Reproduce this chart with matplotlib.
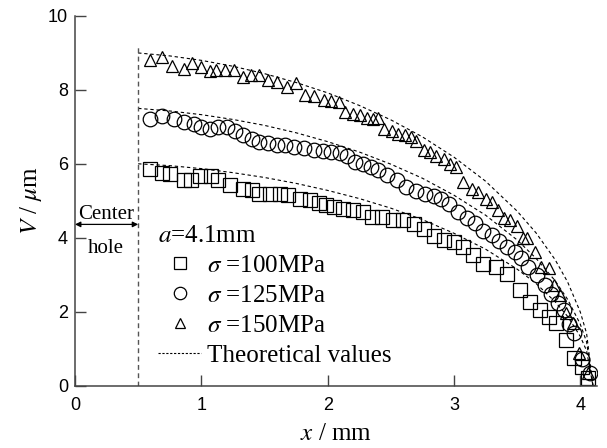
import matplotlib
matplotlib.use("Agg")
import matplotlib.pyplot as plt
from matplotlib.lines import Line2D

plt.rcParams['mathtext.fontset'] = 'stix'
plt.rcParams['font.family'] = ['Liberation Serif', 'DejaVu Serif']

# ---- data ----
sq_x = [0.59, 0.69, 0.75, 0.86, 0.92, 0.99, 1.08, 1.13, 1.23, 1.33, 1.40, 1.46, 1.54, 1.62,
        1.69, 1.78, 1.86, 1.93, 1.99, 2.05, 2.12, 2.20, 2.28, 2.35, 2.43, 2.52, 2.60, 2.68,
        2.76, 2.84, 2.92, 3.00, 3.07, 3.15, 3.23, 3.33, 3.42, 3.52, 3.60, 3.68, 3.75, 3.81,
        3.89, 3.95, 4.01, 4.06]
sq_v = [5.87, 5.75, 5.73, 5.57, 5.55, 5.66, 5.66, 5.55, 5.42, 5.33, 5.30, 5.19, 5.19, 5.19,
        5.15, 5.06, 5.01, 4.94, 4.88, 4.83, 4.79, 4.74, 4.70, 4.56, 4.56, 4.47, 4.47, 4.38,
        4.23, 4.05, 3.95, 3.89, 3.75, 3.53, 3.30, 3.21, 3.03, 2.58, 2.26, 2.04, 1.86, 1.68,
        1.23, 0.74, 0.51, 0.19]

ci_x = [0.59, 0.69, 0.78, 0.86, 0.94, 1.00, 1.07, 1.13, 1.20, 1.27, 1.33, 1.40, 1.46, 1.53,
        1.60, 1.66, 1.73, 1.81, 1.89, 1.96, 2.03, 2.10, 2.15, 2.22, 2.28, 2.34, 2.40, 2.47,
        2.55, 2.62, 2.70, 2.77, 2.84, 2.90, 2.96, 3.03, 3.10, 3.17, 3.23, 3.30, 3.36, 3.42,
        3.48, 3.53, 3.59, 3.66, 3.72, 3.77, 3.82, 3.87, 3.91, 3.95, 4.01, 4.08]
ci_v = [7.22, 7.30, 7.20, 7.13, 7.09, 6.99, 6.95, 6.99, 6.99, 6.90, 6.77, 6.66, 6.59, 6.55,
        6.50, 6.50, 6.46, 6.43, 6.36, 6.34, 6.33, 6.30, 6.20, 6.06, 6.00, 5.90, 5.82, 5.70,
        5.55, 5.38, 5.26, 5.18, 5.14, 5.05, 4.92, 4.70, 4.52, 4.40, 4.18, 4.07, 3.90, 3.74,
        3.60, 3.44, 3.21, 2.99, 2.72, 2.47, 2.22, 2.04, 1.66, 1.43, 0.73, 0.33]

tr_x = [0.59, 0.69, 0.77, 0.86, 0.93, 1.00, 1.07, 1.12, 1.19, 1.26, 1.33, 1.39, 1.46, 1.53,
        1.60, 1.68, 1.75, 1.82, 1.89, 1.97, 2.03, 2.09, 2.14, 2.20, 2.26, 2.31, 2.36, 2.40,
        2.45, 2.51, 2.56, 2.61, 2.66, 2.70, 2.76, 2.81, 2.86, 2.92, 2.97, 3.02, 3.07, 3.14,
        3.19, 3.25, 3.30, 3.35, 3.40, 3.44, 3.50, 3.55, 3.58, 3.64, 3.69, 3.75, 3.79, 3.84,
        3.89, 3.94, 3.99, 4.06]
tr_v = [8.82, 8.89, 8.66, 8.57, 8.72, 8.62, 8.50, 8.55, 8.55, 8.53, 8.35, 8.39, 8.39, 8.28,
        8.21, 8.09, 8.20, 7.85, 7.83, 7.74, 7.70, 7.68, 7.40, 7.36, 7.32, 7.25, 7.22, 7.25,
        6.95, 6.90, 6.82, 6.77, 6.72, 6.62, 6.38, 6.32, 6.22, 6.12, 6.00, 5.90, 5.51, 5.33,
        5.24, 5.06, 4.97, 4.74, 4.52, 4.47, 4.31, 3.98, 4.00, 3.62, 3.21, 3.17, 2.72, 2.45,
        1.95, 1.68, 0.87, 0.33]

th_x = [0.5, 0.75, 1.0, 1.25, 1.5, 1.75, 2.0, 2.25, 2.5, 2.75, 3.0, 3.25, 3.5, 3.65, 3.8,
        3.9, 4.0, 4.05, 4.1]
th_100 = [6.00, 5.95, 5.87, 5.76, 5.63, 5.47, 5.28, 5.06, 4.80, 4.49, 4.12, 3.69, 3.15,
          2.76, 2.27, 1.87, 1.33, 0.94, 0.0]
th_125 = [7.50, 7.43, 7.33, 7.20, 7.04, 6.84, 6.60, 6.32, 5.99, 5.61, 5.15, 4.61, 3.94,
          3.44, 2.84, 2.33, 1.66, 1.18, 0.0]
th_150 = [9.00, 8.92, 8.80, 8.64, 8.44, 8.20, 7.92, 7.58, 7.19, 6.73, 6.18, 5.53, 4.72,
          4.13, 3.41, 2.80, 1.99, 1.41, 0.0]

hole_x = [0.5, 0.5]
hole_v = [0.0, 9.2]

xticks = [0, 1, 2, 3, 4]
yticks = [0, 2, 4, 6, 8, 10]

# ---- figure ----
fig = plt.figure(figsize=(6.07, 4.48), dpi=100)
ax = fig.add_axes([75 / 607, 62.5 / 448, 521.7 / 607, 369.5 / 448])

dash = (0, (3.0, 2.5))
for tv in (th_100, th_125, th_150):
    ax.plot(th_x, tv, color='black', lw=0.8, linestyle=dash)
ax.plot(hole_x, hole_v, color='#555555', lw=1.0, linestyle=(0, (3.5, 2.5)))

h_sq, = ax.plot(sq_x, sq_v, linestyle='none', marker='s', ms=9.5, mfc='none', mec='black', mew=0.9)
h_ci, = ax.plot(ci_x, ci_v, linestyle='none', marker='o', ms=10.5, mfc='none', mec='black', mew=0.9)
h_tr, = ax.plot(tr_x, tr_v, linestyle='none', marker='^', ms=8, mfc='none', mec='black', mew=0.9)
h_th = Line2D([], [], color='black', lw=0.8, linestyle=(0, (2.0, 1.5)))

ax.set_xlim(0, 4.13)
ax.set_ylim(0, 10)
ax.set_xticks(xticks)
ax.set_yticks(yticks)
for s in ('top', 'right'):
    ax.spines[s].set_visible(False)
for s in ('left', 'bottom'):
    ax.spines[s].set_color('#444444')
    ax.spines[s].set_linewidth(1.1)
ax.tick_params(direction='in', length=8, width=1.0, color='#444444')
ax.tick_params(axis='x', pad=8)
ax.tick_params(axis='y', pad=5)
for lab in ax.get_xticklabels() + ax.get_yticklabels():
    lab.set_fontfamily(['Liberation Sans', 'DejaVu Sans'])
    lab.set_fontsize(13)

ax.set_xlabel('$x$ / mm', fontsize=18, labelpad=7)
ax.set_ylabel('$V$ / $\\mu$m', fontsize=18, labelpad=3)

# center hole annotation
ax.annotate('', xy=(0.0, 4.36), xytext=(0.5, 4.36),
            arrowprops=dict(arrowstyle='<|-|>', color='black', lw=0.9,
                            mutation_scale=8, shrinkA=0, shrinkB=0))
ax.text(0.245, 4.5, 'Center', ha='center', va='baseline', fontsize=15)
ax.text(0.245, 3.58, 'hole', ha='center', va='baseline', fontsize=15)

leg = ax.legend([h_sq, h_ci, h_tr, h_th],
                ['$\\sigma$ =100MPa', '$\\sigma$ =125MPa', '$\\sigma$ =150MPa',
                 'Theoretical values'],
                title='$a$=4.1mm', title_fontsize=18, fontsize=18, alignment='left',
                loc='upper left', bbox_to_anchor=(0.16, 0.435), frameon=False,
                handlelength=1.7, handletextpad=0.25, labelspacing=0.3,
                borderpad=0.0, borderaxespad=0.0, markerscale=0.85)

fig.savefig('out.png', dpi=100)
